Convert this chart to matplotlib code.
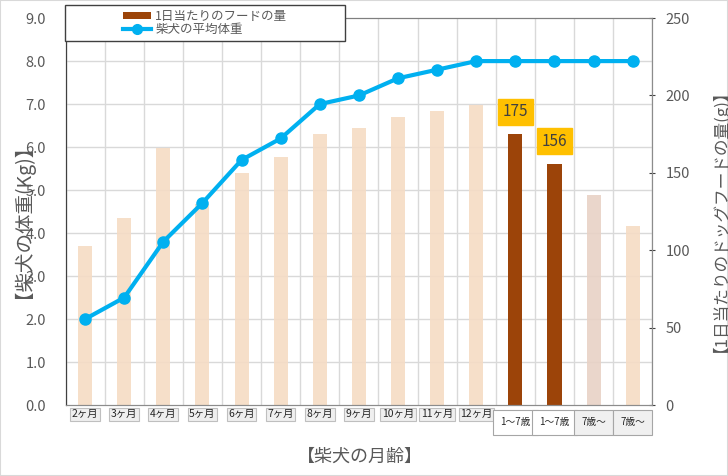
import numpy as np
import matplotlib.pyplot as plt
from matplotlib.patches import Rectangle
from matplotlib.lines import Line2D
from matplotlib.patches import Patch

plt.rcParams['font.family'] = ['Noto Sans CJK JP', 'DejaVu Sans']

# data
ages = ["2ヶ月", "3ヶ月", "4ヶ月", "5ヶ月", "6ヶ月", "7ヶ月", "8ヶ月", "9ヶ月",
        "10ヶ月", "11ヶ月", "12ヶ月", "1〜7歳", "1〜7歳", "7歳〜", "7歳〜"]
food_g = [103, 121, 166, 130, 150, 160, 175, 179, 186, 190, 194, 175, 156, 136, 116]
weight_kg = [2.0, 2.5, 3.8, 4.7, 5.7, 6.2, 7.0, 7.2, 7.6, 7.8, 8.0, 8.0, 8.0, 8.0, 8.0]
bar_colors = ["#F5DCC4"] * 11 + ["#9C4409", "#9C4409", "#E8D2C6", "#F5DCC4"]
labeled = {11: "175", 12: "156"}

TXT = "#595959"

fig = plt.figure(figsize=(7.28, 4.76), dpi=100)
fig.add_artist(Rectangle((0, 0), 1, 1, transform=fig.transFigure, fill=False,
                         edgecolor="#D9D9D9", lw=1.5))

ax2 = fig.add_axes([0.090, 0.149, 0.806, 0.813])
ax = ax2.twinx()
ax.yaxis.tick_left()
ax2.yaxis.tick_right()
ax.set_zorder(ax2.get_zorder() + 1)
ax.patch.set_visible(False)

x = np.arange(len(ages))

# bars on right axis (g)
alphas = [0.9] * 11 + [1.0, 1.0, 0.9, 0.9]
for i in x:
    ax2.bar(i, food_g[i], width=0.36, color=bar_colors[i], alpha=alphas[i], zorder=2)
    if i in labeled:
        ax2.annotate(labeled[i], (i, food_g[i]), xytext=(0, 10), textcoords="offset points",
                     ha="center", va="bottom", fontsize=11, color="#404040",
                     bbox=dict(boxstyle="square,pad=0.3", fc="#FFC000", ec="#FFC000"))
ax2.set_ylim(0, 250)
ax2.set_yticks(np.arange(0, 251, 50))
ax2.set_xlim(-0.5, len(ages) - 0.5)

# line on left axis (kg)
ax.plot(x, weight_kg, color="#00B0F0", lw=3, marker="o", ms=8, zorder=5)
ax.set_ylim(0, 9)
ax.set_yticks(np.arange(0, 9.1, 1.0))
ax.set_yticklabels([f"{v:.1f}" for v in np.arange(0, 9.1, 1.0)])
ax.set_xlim(-0.5, len(ages) - 0.5)

# grid
ax2.set_xticks(np.arange(-0.5, len(ages), 1.0), minor=True)
ax2.set_xticks([])
ax2.grid(True, which="minor", axis="x", color="#D9D9D9", lw=1, zorder=0)
ax2.tick_params(axis="x", which="minor", length=0)
for v in np.arange(1, 9):
    ax2.axhline(v * 250 / 9, color="#D9D9D9", lw=1, zorder=0)
ax.set_xticks([])

for a in (ax, ax2):
    a.spines["top"].set_color("#7F7F7F")
    a.spines["left"].set_color("#404040")
    a.spines["right"].set_color("#8C8C8C")
    a.spines["bottom"].set_color("#8C8C8C")
ax.tick_params(axis="y", length=0, labelsize=10.5, labelcolor=TXT, pad=14)
ax2.tick_params(axis="y", length=5, direction="inout", color="#404040",
                labelsize=10.5, labelcolor=TXT, pad=7)

# x tick labels in boxes
for i, lab in enumerate(ages):
    if "歳" in lab:
        fc = "white" if "1〜" in lab else "#F0F0F0"
        ax2.text(i, -0.045, lab, transform=ax2.get_xaxis_transform(), ha="center", va="center",
                 fontsize=7, color="#262626",
                 bbox=dict(boxstyle="square,pad=0.75", fc=fc, ec="#A6A6A6", lw=0.8))
    else:
        ax2.text(i, -0.024, lab, transform=ax2.get_xaxis_transform(), ha="center", va="center",
                 fontsize=7.5, color="#262626",
                 bbox=dict(boxstyle="square,pad=0.15", fc="#EFEFEF", ec="#BFBFBF", lw=0.8))

# axis labels
fig.text(0.019, 0.555, "【柴犬の体重(Kg)】", rotation=90, ha="center", va="center",
         fontsize=14, color=TXT)
fig.text(0.978, 0.555, "【1日当たりのドッグフードの量(g)】", rotation=90, ha="center",
         va="center", fontsize=12, color=TXT)
fig.text(0.495, 0.040, "【柴犬の月齢】", ha="center", va="center", fontsize=13, color=TXT)

# legend
fig.add_artist(Rectangle((0.089, 0.914), 0.385, 0.0756, transform=fig.transFigure,
                         facecolor="white", edgecolor="#404040", lw=1, zorder=3))
handles = [Patch(facecolor="#9C4409", edgecolor="none"),
           Line2D([], [], color="#00B0F0", lw=3, marker="o", ms=7)]
leg = fig.legend(handles, ["1日当たりのフードの量", "柴犬の平均体重"], loc="center left",
                 bbox_to_anchor=(0.160, 0.9517), frameon=False, fontsize=9,
                 labelspacing=0.0, handlelength=2.3, handleheight=0.5, handletextpad=0.3,
                 borderpad=0.0)
for t in leg.get_texts():
    t.set_color(TXT)
leg.set_zorder(6)

fig.savefig("out.png", dpi=100)
